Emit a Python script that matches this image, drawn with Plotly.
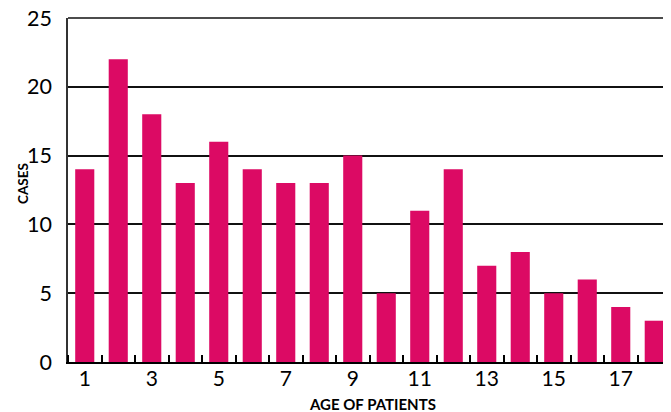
import plotly.graph_objects as go

ages = list(range(1, 19))
cases = [14, 22, 18, 13, 16, 14, 13, 13, 15, 5, 11, 14, 7, 8, 5, 6, 4, 3]
x_tick_labels = [1, 3, 5, 7, 9, 11, 13, 15, 17]
y_tick_values = [0, 5, 10, 15, 20, 25]

font_family = "Lato, 'DejaVu Sans', sans-serif"

# page body has an 8px default margin, so the figure is sized to fit the 671x412 window
fig_w, fig_h = 663, 404
m_l, m_t, m_r, m_b = 60, 10, 0, 50
plot_w = fig_w - m_l - m_r
plot_h = fig_h - m_t - m_b

fig = go.Figure(go.Bar(x=ages, y=cases, marker_color="#DC0A64", marker_line_width=0))

fig.update_layout(
    width=fig_w, height=fig_h,
    margin=dict(l=m_l, r=m_r, t=m_t, b=m_b, autoexpand=False),
    paper_bgcolor="white", plot_bgcolor="white",
    bargap=0.43,
    showlegend=False,
    font=dict(family=font_family, color="black"),
)
fig.update_xaxes(
    range=[0.5, 18.5],
    tickvals=x_tick_labels,
    ticktext=[str(v) for v in x_tick_labels],
    ticks="", ticklen=0, automargin=False,
    ticklabelstandoff=-3,
    tickfont=dict(size=21, color="black"),
    showline=True, linecolor="black", linewidth=2,
    showgrid=False, zeroline=False,
    minor=dict(tick0=0.5, dtick=1, ticks="inside", ticklen=7, tickcolor="black", tickwidth=1.5, showgrid=False),
)
fig.update_yaxes(
    range=[0, 25],
    tickvals=y_tick_values,
    ticks="", ticklabelstandoff=10, automargin=False,
    ticklabeloverflow="allow",
    tickfont=dict(size=21.5, color="black"),
    showline=True, linecolor="#333333", linewidth=1.5,
    showgrid=True, gridcolor="#111111", gridwidth=1.5,
    zeroline=False,
)
# the top gridline (25) lies on the plot's upper edge, where plotly omits it
fig.add_shape(type="line", xref="paper", yref="paper", x0=0, x1=1, y0=1, y1=1,
              line=dict(color="#111111", width=1.5))
# positions in window pixels: plot spans x 68..671, y 18..362
fig.add_annotation(text="<b>CASES</b>", x=-(68 - 23) / plot_w, y=(362 - 184) / plot_h,
                   xref="paper", yref="paper", xanchor="center", yanchor="middle",
                   showarrow=False, textangle=-90, font=dict(size=13.5, color="black"))
fig.add_annotation(text="<b>AGE OF PATIENTS</b>", x=(372 - 68) / plot_w, y=-(404 - 362) / plot_h,
                   xref="paper", yref="paper", xanchor="center", yanchor="middle",
                   showarrow=False, font=dict(size=15, color="black"))

fig.write_html("out.html")
